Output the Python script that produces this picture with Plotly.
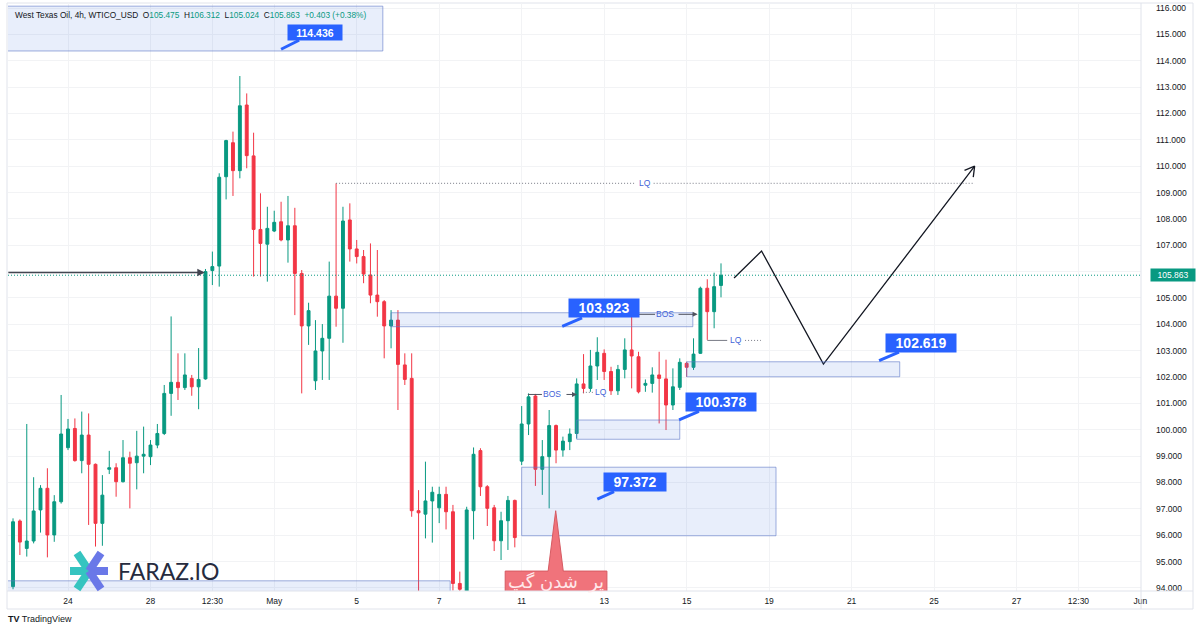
import math
import plotly.graph_objects as go

# ---------------- data ----------------
opens = [94.05, 96.54, 95.50, 95.78, 96.96, 97.78, 96.01, 97.27, 99.32, 100.05,
         98.83, 99.80, 98.69, 96.45, 98.50, 98.56, 98.03, 98.94, 98.75, 99.00,
         98.98, 99.42, 99.86, 101.38, 101.80, 101.60, 101.95, 101.63, 101.93, 106.04,
         106.21, 109.60, 110.89, 109.83, 112.32, 110.39, 107.60, 107.04, 107.54, 107.89,
         107.20, 107.74, 105.93, 103.94, 101.86, 102.99, 103.47, 105.07, 104.61, 107.96,
         106.86, 106.57, 105.87, 105.11, 104.86, 103.94, 104.16, 102.46, 101.95, 96.93,
         96.80, 97.30, 97.04, 97.55, 96.89, 94.17, 93.85, 96.93, 99.21, 97.84,
         97.04, 95.79, 96.55, 97.32, 98.81, 100.22, 101.28, 98.50, 98.98, 100.16,
         99.23, 99.55, 99.86, 101.74, 101.57, 102.42, 102.90, 102.21, 101.48, 102.29,
         103.03, 102.77, 101.69, 101.76, 102.08, 101.93, 100.94, 101.61, 102.52, 102.37,
         102.90, 105.37, 104.48, 105.475]
highs = [96.64, 96.60, 100.22, 98.20, 97.90, 98.54, 97.52, 101.32, 100.41, 100.43,
         100.69, 100.62, 98.72, 98.28, 99.20, 98.73, 99.61, 99.17, 99.96, 100.12,
         99.61, 100.22, 101.70, 104.30, 102.90, 102.90, 102.08, 103.10, 106.10, 106.76,
         109.73, 111.00, 111.31, 113.42, 112.76, 111.27, 108.97, 108.46, 108.31, 108.65,
         108.87, 108.42, 106.06, 104.82, 104.16, 104.01, 106.38, 109.35, 108.46, 108.59,
         107.20, 106.82, 107.07, 106.82, 104.92, 104.54, 104.54, 102.90, 102.90, 97.71,
         98.79, 97.84, 97.84, 97.84, 97.15, 94.62, 97.08, 99.33, 99.30, 97.90,
         97.15, 96.89, 97.49, 97.35, 100.90, 101.38, 101.36, 99.61, 100.75, 100.20,
         99.74, 100.05, 101.95, 102.87, 103.03, 103.51, 103.05, 102.39, 102.46, 103.47,
         104.42, 102.96, 101.91, 102.37, 102.96, 102.66, 102.33, 102.71, 102.58, 103.47,
         105.43, 105.71, 105.96, 106.312]
lows = [93.95, 95.25, 95.19, 95.69, 96.10, 95.16, 95.75, 97.20, 99.23, 98.79,
        98.35, 96.39, 95.57, 95.60, 98.32, 97.46, 98.00, 97.02, 97.74, 98.35,
        98.66, 99.30, 99.80, 100.53, 101.13, 101.51, 101.29, 100.78, 101.90, 105.49,
        105.43, 108.74, 108.87, 109.54, 109.92, 105.81, 105.81, 105.62, 107.50, 107.15,
        106.34, 104.35, 101.38, 103.22, 101.51, 101.89, 101.89, 103.91, 103.30, 106.38,
        106.31, 105.56, 104.80, 104.29, 102.71, 103.09, 100.75, 101.70, 96.70, 93.80,
        95.88, 95.72, 96.46, 96.22, 93.90, 93.80, 93.70, 95.84, 97.49, 96.35,
        95.40, 95.06, 95.44, 95.54, 98.66, 99.80, 97.87, 97.53, 97.02, 98.73,
        98.98, 99.23, 99.67, 101.38, 101.44, 101.89, 101.89, 101.32, 101.32, 101.95,
        101.57, 101.38, 101.44, 101.41, 100.24, 99.99, 100.75, 101.51, 102.01, 102.27,
        102.88, 103.41, 103.85, 105.024]
closes = [96.51, 95.74, 95.78, 96.92, 97.78, 96.01, 97.27, 99.84, 100.03, 98.83,
          99.80, 98.69, 96.45, 97.52, 98.56, 98.03, 98.94, 98.73, 99.00, 99.07,
          99.42, 99.86, 101.38, 101.80, 101.60, 102.08, 101.63, 101.91, 106.00, 106.19,
          109.58, 110.97, 109.83, 112.29, 110.40, 107.60, 107.07, 107.64, 107.87, 107.20,
          107.74, 105.93, 103.94, 104.52, 102.99, 103.47, 105.07, 104.61, 107.92, 106.86,
          106.57, 105.91, 105.11, 104.86, 103.94, 104.16, 102.48, 101.91, 96.93, 96.85,
          97.30, 97.63, 97.55, 96.89, 94.17, 93.95, 96.96, 99.07, 97.84, 97.02,
          95.79, 96.55, 97.32, 95.91, 100.22, 101.25, 98.50, 98.98, 100.16, 99.23,
          99.57, 99.84, 101.74, 101.57, 102.42, 102.94, 102.21, 101.48, 102.29, 103.03,
          102.80, 101.44, 101.76, 102.08, 101.95, 100.94, 101.63, 102.56, 102.37, 102.87,
          105.37, 104.48, 105.43, 105.863]
candle_index = list(range(len(opens)))

tick_index = [8, 20, 29, 38, 50, 62, 74, 86, 98, 110, 122, 134, 146, 155, 164]
tick_labels = ["24", "28", "12:30", "May", "5", "7", "11", "13", "15", "19",
               "21", "25", "27", "12:30", "Jun"]
price_ticks = list(range(94, 117))

last_price = 105.863
header_values = {"O": "105.475", "H": "106.312", "L": "105.024", "C": "105.863"}
header_change = "+0.403 (+0.38%)"

# zones: (start index, end index, low price, high price)
zone_start = [-0.9, 55.0, 82.0, 74.0, 98.0, -0.9]
zone_end = [53.8, 98.9, 97.0, 111.0, 129.0, 63.6]
zone_low = [114.37, 103.91, 99.64, 95.98, 102.01, 93.60]
zone_high = [116.07, 104.44, 100.37, 98.58, 102.58, 94.27]

# price callouts: value and the candle index they point at
callout_value = [114.436, 103.923, 100.378, 97.372, 102.619]
callout_index = [39.0, 79.9, 96.9, 85.0, 126.0]

# projected path (index, price)
path_index = [104.9, 108.9, 117.9, 139.9]
path_price = [105.76, 106.78, 102.49, 110.0]

lq_top_price = 109.35
bos1_price, bos2_price = 101.34, 104.38
lq1_price, lq2_price = 101.42, 103.39
arrow_left_price = 105.97
gap_tip_price = 96.93
gap_text = "پر\u00a0\u00a0شدن گپ"

# ---------------- styling / geometry ----------------
W, H = 1200, 630
ML, MR, MT, MB = 8, 59, 3, 39
PW, PH = W - ML - MR, H - MT - MB
X_RANGE = [-0.73, 164.1]
Y_RANGE = [93.884, 116.19]
XPP = (X_RANGE[1] - X_RANGE[0]) / PW   # index units per pixel
YPP = (Y_RANGE[1] - Y_RANGE[0]) / PH   # price units per pixel

GREEN = "#089981"
RED = "#f23645"
BLUE = "#2962ff"
TXT = "#131722"
LBL_BLUE = "#3f63d8"
GRID = "#f2f3f5"
FONT = "Liberation Sans, Arial, sans-serif"
DOTS = "1px,2px"


def PX(px):
    return (px - ML) / PW


def PY(py):
    return (H - MB - py) / PH


fig = go.Figure()

fig.add_trace(go.Candlestick(
    x=candle_index, open=opens, high=highs, low=lows, close=closes,
    increasing=dict(line=dict(color=GREEN, width=1), fillcolor=GREEN),
    decreasing=dict(line=dict(color=RED, width=1), fillcolor=RED),
    whiskerwidth=0, showlegend=False, hoverinfo="skip"))

shapes = []
annotations = []

# zones
for x0, x1, y0, y1 in zip(zone_start, zone_end, zone_low, zone_high):
    shapes.append(dict(type="rect", xref="x", yref="y", x0=x0, x1=x1, y0=y0, y1=y1,
                       fillcolor="rgba(80,120,225,0.13)",
                       line=dict(color="rgba(95,120,200,0.6)", width=1)))

# current price dotted line
shapes.append(dict(type="line", xref="paper", yref="y", x0=0, x1=1,
                   y0=last_price, y1=last_price,
                   line=dict(color=GREEN, width=1, dash=DOTS)))

# top LQ dotted line with gap for text
lq_x0, lq_x1, lq_tx = 47.0, 139.9, 91.9
gap = 1.3
shapes.append(dict(type="line", xref="x", yref="y", x0=lq_x0, x1=lq_tx - gap,
                   y0=lq_top_price, y1=lq_top_price,
                   line=dict(color="#787b86", width=1, dash=DOTS)))
shapes.append(dict(type="line", xref="x", yref="y", x0=lq_tx + gap, x1=lq_x1,
                   y0=lq_top_price, y1=lq_top_price,
                   line=dict(color="#787b86", width=1, dash=DOTS)))
annotations.append(dict(x=lq_tx, y=lq_top_price, xref="x", yref="y", text="LQ",
                        showarrow=False, font=dict(size=8.5, color=LBL_BLUE, family=FONT)))

# BOS lines
for p, a0, a1, tx, b0, b1 in [(bos1_price, 74.9, 76.95, 78.4, 80.3, 82.05),
                              (bos2_price, 90.05, 93.4, 94.9, 96.6, 99.6)]:
    shapes.append(dict(type="line", xref="x", yref="y", x0=a0, x1=a1, y0=p, y1=p,
                       line=dict(color="#50535e", width=1)))
    annotations.append(dict(x=b1, y=p, xref="x", yref="y", ax=b0, ay=p,
                            axref="x", ayref="y", text="", showarrow=True,
                            arrowhead=2, arrowsize=1, arrowwidth=1,
                            arrowcolor="#50535e", standoff=0))
    annotations.append(dict(x=tx, y=p, xref="x", yref="y", text="BOS",
                            showarrow=False, font=dict(size=8.5, color=LBL_BLUE, family=FONT)))

# LQ small markers
shapes.append(dict(type="line", xref="x", yref="y", x0=82.9, x1=84.4, y0=lq1_price, y1=lq1_price,
                   line=dict(color="#787b86", width=1, dash=DOTS)))
annotations.append(dict(x=85.6, y=lq1_price, xref="x", yref="y", text="LQ", showarrow=False,
                        font=dict(size=8.5, color=LBL_BLUE, family=FONT)))
shapes.append(dict(type="line", xref="x", yref="y", x0=101.0, x1=103.9, y0=lq2_price, y1=lq2_price,
                   line=dict(color="#787b86", width=1)))
annotations.append(dict(x=105.2, y=lq2_price, xref="x", yref="y", text="LQ", showarrow=False,
                        font=dict(size=8.5, color=LBL_BLUE, family=FONT)))
shapes.append(dict(type="line", xref="x", yref="y", x0=106.5, x1=108.8, y0=lq2_price, y1=lq2_price,
                   line=dict(color="#787b86", width=1, dash=DOTS)))

# left horizontal arrow
annotations.append(dict(x=27.9, y=arrow_left_price, xref="x", yref="y",
                        ax=-0.9, ay=arrow_left_price, axref="x", ayref="y", text="",
                        showarrow=True, arrowhead=2, arrowsize=1, arrowwidth=1.5,
                        arrowcolor="#434651", standoff=0))

# projection path
fig.add_trace(go.Scatter(x=path_index, y=path_price, mode="lines",
                         line=dict(color="#131722", width=1.3),
                         showlegend=False, hoverinfo="skip"))
# open arrow head at the end of the path
ex, ey = path_index[-1], path_price[-1]
sx, sy = path_index[-2], path_price[-2]
dxp, dyp = (ex - sx) / XPP, -(ey - sy) / YPP
ln = math.hypot(dxp, dyp)
ux, uy = dxp / ln, dyp / ln
head_x, head_y = [], []
for ang in (math.radians(30), math.radians(-30)):
    bx = -(ux * math.cos(ang) - uy * math.sin(ang)) * 11
    by = -(ux * math.sin(ang) + uy * math.cos(ang)) * 11
    head_x += [ex + bx * XPP, ex, None]
    head_y += [ey - by * YPP, ey, None]
fig.add_trace(go.Scatter(x=head_x, y=head_y, mode="lines",
                         line=dict(color="#131722", width=1.3),
                         showlegend=False, hoverinfo="skip"))

# callouts (blue price labels)
callout_style = [(34, -17, 54, 15, 10.5), (42, -18, 70, 18, 14), (42, -18, 70, 18, 14),
                 (38, -17, 62, 18, 14), (42, -18, 70, 18, 14)]
for v, xi, (axp, ayp, bw, bh, fs) in zip(callout_value, callout_index, callout_style):
    annotations.append(dict(x=xi, y=v, xref="x", yref="y", text=f"<b>{v:.3f}</b>",
                            showarrow=True, ax=axp, ay=ayp, arrowhead=0, arrowwidth=3,
                            arrowcolor=BLUE, bgcolor=BLUE, borderpad=0, width=bw, height=bh,
                            standoff=0, font=dict(size=fs, color="white", family=FONT)))

# red gap-fill label with pointer
bx0, bx1 = 71.6, 86.4
by0 = Y_RANGE[0] - 0.3
by1 = 94.64
tip_x = 78.95
path = (f"M {bx0},{by0} L {bx0},{by1} L {tip_x - 1.1},{by1} L {tip_x},{gap_tip_price} "
        f"L {tip_x + 1.1},{by1} L {bx1},{by1} L {bx1},{by0} Z")
shapes.append(dict(type="path", xref="x", yref="y", path=path,
                   fillcolor="#f0737b", line=dict(color="#d65a62", width=1)))
annotations.append(dict(x=(bx0 + bx1) / 2, y=by1 - 11 * YPP, xref="x", yref="y",
                        text=gap_text, showarrow=False,
                        font=dict(size=18, color="#ffe8ea", family="DejaVu Sans")))

# frame / separators
shapes.append(dict(type="rect", xref="paper", yref="paper", x0=PX(7), x1=PX(1193),
                   y0=PY(609), y1=PY(3), line=dict(color="#e0e3eb", width=1),
                   fillcolor="rgba(0,0,0,0)", layer="below"))
shapes.append(dict(type="line", xref="paper", yref="paper", x0=PX(7), x1=PX(1193),
                   y0=0, y1=0, line=dict(color="#e0e3eb", width=1)))
shapes.append(dict(type="line", xref="paper", yref="paper", x0=1, x1=1,
                   y0=PY(609), y1=PY(3), line=dict(color="#e0e3eb", width=1)))

# price tag for last price
annotations.append(dict(x=PX(1150), y=last_price, xref="paper", yref="y", xanchor="left",
                        text=f"{last_price:.3f}", showarrow=False, bgcolor=GREEN,
                        width=44, height=12, borderpad=0,
                        font=dict(size=8.5, color="white", family=FONT)))

# header
hdr = "West Texas Oil, 4h, WTICO_USD"
for k, v in header_values.items():
    hdr += f"\u00a0 {k}<span style='color:{GREEN}'>{v}</span>"
hdr += f"\u00a0 <span style='color:{GREEN}'>{header_change}</span>"
annotations.append(dict(x=PX(13), y=PY(15), xref="paper", yref="paper", xanchor="left",
                        yanchor="middle", text=hdr, showarrow=False,
                        font=dict(size=8.3, color=TXT, family=FONT)))

# watermark logo
teal, violet = "#35c4c0", "#6a78e8"
cx, cy = 89, 571
arms = [((70, 571), teal), ((77, 553), teal), ((77, 589), teal),
        ((108, 571), violet), ((101, 553), violet), ((101, 589), violet)]
for (px_, py_), col in arms:
    shapes.append(dict(type="line", xref="paper", yref="paper",
                       x0=PX(cx), y0=PY(cy), x1=PX(px_), y1=PY(py_),
                       line=dict(color=col, width=8)))
annotations.append(dict(x=PX(116), y=PY(571), xref="paper", yref="paper", xanchor="left",
                        yanchor="middle", text="FARAZ.IO", showarrow=False,
                        font=dict(size=23, color="#262b3e", family="Lato, sans-serif")))

# footer
annotations.append(dict(x=PX(6), y=PY(619), xref="paper", yref="paper", xanchor="left",
                        yanchor="middle", text="<b>TV</b> TradingView", showarrow=False,
                        font=dict(size=9, color=TXT, family=FONT)))

# price tick labels; the label hidden behind the last-price tag is left blank
price_text = ["" if abs(p - last_price) < 0.5 else f"{p:.3f}" for p in price_ticks]

fig.update_layout(
    width=W, height=H, margin=dict(l=ML, r=MR, t=MT, b=MB),
    paper_bgcolor="white", plot_bgcolor="white",
    shapes=shapes, annotations=annotations, boxgap=0.4,
    xaxis=dict(range=X_RANGE, rangeslider=dict(visible=False), tickmode="array",
               tickvals=tick_index, ticktext=tick_labels, showgrid=True, gridcolor=GRID,
               zeroline=False, showline=False, ticks="", ticklabelstandoff=3,
               tickfont=dict(size=8.5, color=TXT, family=FONT)),
    yaxis=dict(range=Y_RANGE, side="right", tickmode="array", tickvals=price_ticks,
               ticktext=price_text,
               showgrid=True, gridcolor=GRID, zeroline=False, showline=False, ticks="",
               ticklabelstandoff=14, tickfont=dict(size=8.5, color=TXT, family=FONT)),
    hovermode=False,
)

fig.write_html("out.html")
